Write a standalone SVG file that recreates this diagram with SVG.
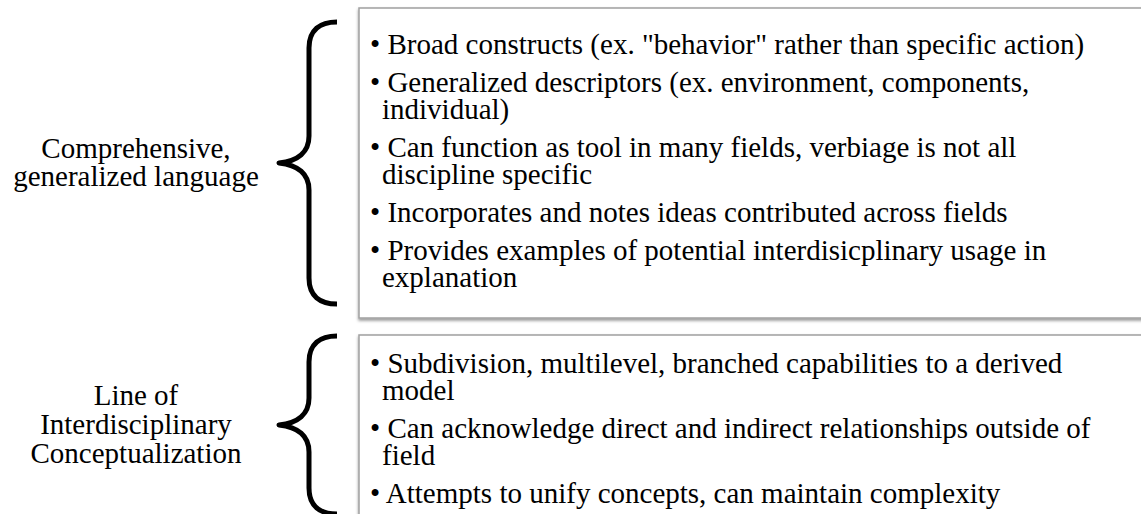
<svg xmlns="http://www.w3.org/2000/svg" width="1141" height="514" viewBox="0 0 1141 514">
  <defs>
    <filter id="shadow" x="-5%" y="-5%" width="110%" height="115%">
      <feGaussianBlur in="SourceAlpha" stdDeviation="1.5"/>
      <feOffset dx="0" dy="2" result="b"/>
      <feFlood flood-color="#000" flood-opacity="0.4"/>
      <feComposite in2="b" operator="in"/>
      <feMerge><feMergeNode/><feMergeNode in="SourceGraphic"/></feMerge>
    </filter>
  </defs>
  <style>
    .box { fill: #ffffff; stroke: #a0a0a0; stroke-width: 1.5; }
    .brace { fill: none; stroke: #000; stroke-width: 5; stroke-linecap: butt; stroke-linejoin: round; }
    text { font-family: "Liberation Serif", "Times New Roman", serif; font-size: 29px; fill: #000; }
    .label { text-anchor: middle; }
  </style>
  <rect width="1141" height="514" fill="#ffffff"/>

  <!-- upper panel -->
  <g id="panel-language">
    <rect class="box" x="359" y="8" width="800" height="310" filter="url(#shadow)"/>
    <text x="370" y="54">• Broad constructs (ex. "behavior" rather than specific action)</text>
    <text x="370" y="92">• Generalized descriptors (ex. environment, components,</text>
    <text x="382" y="119">individual)</text>
    <text x="370" y="157">• Can function as tool in many fields, verbiage is not all</text>
    <text x="382" y="184">discipline specific</text>
    <text x="370" y="222">• Incorporates and notes ideas contributed across fields</text>
    <text x="370" y="260">• Provides examples of potential interdisicplinary usage in</text>
    <text x="382" y="287">explanation</text>
  </g>

  <!-- lower panel -->
  <g id="panel-line">
    <rect class="box" x="359" y="335" width="800" height="200" filter="url(#shadow)"/>
    <text x="370" y="373">• Subdivision, multilevel, branched capabilities to a derived</text>
    <text x="382" y="400">model</text>
    <text x="370" y="438">• Can acknowledge direct and indirect relationships outside of</text>
    <text x="382" y="465">field</text>
    <text x="370" y="503">• Attempts to unify concepts, can maintain complexity</text>
  </g>

  <g id="label-language">
    <text class="label" x="136" y="158">Comprehensive,</text>
    <text class="label" x="136" y="186">generalized language</text>
  </g>

  <g id="label-line">
    <text class="label" x="136" y="405">Line of</text>
    <text class="label" x="136" y="434">Interdisciplinary</text>
    <text class="label" x="136" y="463">Conceptualization</text>
  </g>

  <!-- curly braces joining each label to its panel -->
  <g id="connectors">
    <path class="brace" d="M337,22 C320,22 309,30 309,48 L309,136 C309,152 298,161 279,163 C298,165 309,174 309,190 L309,278 C309,296 320,304 337,304"/>
    <path class="brace" d="M337,336 C320,336 309,344 309,362 L309,398 C309,414 298,423 279,425 C298,427 309,436 309,452 L309,488 C309,506 320,514 337,514"/>
  </g>
</svg>
